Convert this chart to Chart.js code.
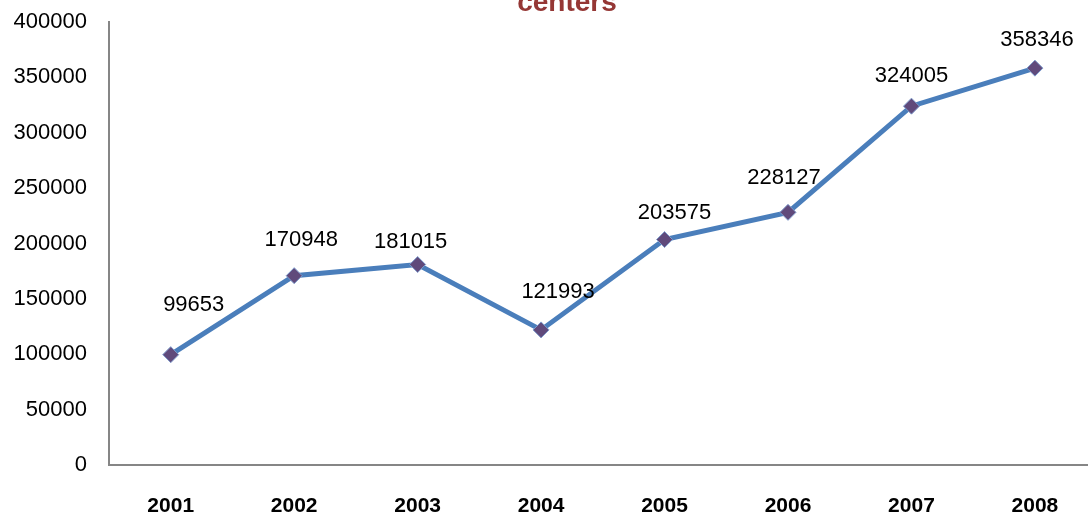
<!DOCTYPE html>
<html>
<head>
<meta charset="utf-8">
<script src="https://cdn.jsdelivr.net/npm/chart.js@4"></script>
<style>
html,body{margin:0;padding:0;background:#fff;overflow:hidden;}
#wrap{width:1088px;height:517px;}
</style>
</head>
<body>
<div id="wrap"><canvas id="c" width="1088" height="517"></canvas></div>
<script>
const years = [2001, 2002, 2003, 2004, 2005, 2006, 2007, 2008];
const centers = [99653, 170948, 181015, 121993, 203575, 228127, 324005, 358346];
const yTicks = [0, 50000, 100000, 150000, 200000, 250000, 300000, 350000, 400000];
const titleText = 'centers';

// label placement tweaks (style, not data)
const labelDx = [23, 7, -7, 17, 10, -4, 0, 2];
const labelDy = [-50, -36, -23, -38, -27, -34, -30, -28];

const FONT = '"Liberation Sans", Arial, sans-serif';

const titlePlugin = {
  id: 'cutTitle',
  afterDraw(chart) {
    const ctx = chart.ctx;
    ctx.save();
    ctx.font = 'bold 28px ' + FONT;
    ctx.fillStyle = '#953735';
    ctx.textAlign = 'center';
    ctx.textBaseline = 'alphabetic';
    ctx.fillText(titleText, 567, 11);
    ctx.restore();
  }
};

const labelPlugin = {
  id: 'valueLabels',
  afterDatasetsDraw(chart) {
    const ctx = chart.ctx;
    const meta = chart.getDatasetMeta(0);
    ctx.save();
    ctx.font = '22px ' + FONT;
    ctx.fillStyle = '#000';
    ctx.textAlign = 'center';
    ctx.textBaseline = 'middle';
    meta.data.forEach((pt, i) => {
      ctx.fillText(String(centers[i]), pt.x + labelDx[i], pt.y + labelDy[i]);
    });
    ctx.restore();
  }
};

function zeroPad(s) { s.paddingTop = 0; s.paddingBottom = 0; s.paddingLeft = 0; s.paddingRight = 0; }

new Chart(document.getElementById('c'), {
  type: 'line',
  data: {
    datasets: [{
      data: years.map((yr, i) => ({ x: yr, y: centers[i] })),
      borderColor: '#4A7EBB',
      borderWidth: 5,
      tension: 0,
      pointStyle: 'rectRot',
      pointRadius: 8,
      pointHoverRadius: 8,
      pointBackgroundColor: '#604A7B',
      pointBorderColor: '#7E9BCB',
      pointBorderWidth: 1
    }]
  },
  options: {
    responsive: false,
    animation: false,
    events: [],
    layout: { autoPadding: false, padding: { top: 22, right: 0, left: 0, bottom: 0 } },
    plugins: { legend: { display: false }, tooltip: { enabled: false }, title: { display: false } },
    scales: {
      x: {
        type: 'linear',
        min: 2000.5, max: 2008.43,
        grid: { display: false, drawTicks: false },
        border: { display: true, color: '#868686', width: 2 },
        afterBuildTicks(s) { s.ticks = years.map(v => ({ value: v })); },
        ticks: { color: '#000', font: { family: FONT, size: 21, weight: 'bold' }, padding: 29, maxRotation: 0, autoSkip: false, callback: v => String(v) },
        afterFit(s) { s.height = 52; zeroPad(s); }
      },
      y: {
        min: 0, max: 400000,
        grid: { display: false, drawTicks: false },
        border: { display: true, color: '#868686', width: 2 },
        afterBuildTicks(s) { s.ticks = yTicks.map(v => ({ value: v })); },
        ticks: { color: '#000', font: { family: FONT, size: 22 }, padding: 22, callback: v => String(v) },
        afterFit(s) { s.width = 109; zeroPad(s); }
      }
    }
  },
  plugins: [titlePlugin, labelPlugin]
});
</script>
</body>
</html>
